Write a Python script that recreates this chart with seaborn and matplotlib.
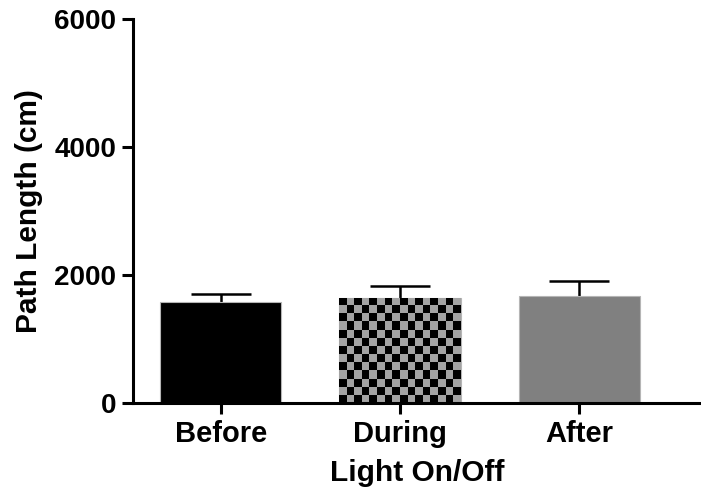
import numpy as np
import pandas as pd
import matplotlib
matplotlib.use("Agg")
import matplotlib.pyplot as plt
import seaborn as sns
from matplotlib.colors import ListedColormap

categories = ["Before", "During", "After"]
means = [1573, 1645, 1672]
sem = [135, 188, 239]
yticks = [0, 2000, 4000, 6000]

sns.set_style("ticks")
plt.rcParams['font.family'] = ['Liberation Sans', 'DejaVu Sans']
plt.rcParams['font.weight'] = 'bold'
plt.rcParams['text.color'] = 'black'
plt.rcParams['axes.labelcolor'] = 'black'
plt.rcParams['xtick.color'] = 'black'
plt.rcParams['ytick.color'] = 'black'
plt.rcParams['axes.edgecolor'] = 'black'

fig = plt.figure(figsize=(7.01, 4.93), dpi=100)
ax = fig.add_axes([133/701, 1 - 403/493, 1 - 133/701, (403 - 19)/493])

df = pd.DataFrame({"cond": categories, "val": means})
sns.barplot(data=df, x="cond", y="val", order=categories,
            palette=["#000000", "#a3a3a3", "#808080"], hue="cond", legend=False,
            width=0.676, errorbar=None, ax=ax, edgecolor="#b5b5b5", linewidth=0.8,
            saturation=1, zorder=2)

ax.errorbar(np.arange(len(categories)), means, yerr=sem, fmt="none",
            ecolor="black", elinewidth=1.8, capsize=21.5, capthick=1.8, zorder=1)

ax.set_xlim(-0.49, 2.68)
ax.set_ylim(0, 6000)
ax.set_yticks(yticks)
ax.set_yticklabels([str(t) for t in yticks])

# checkerboard texture for the "During" bar
fig.canvas.draw()
patch = ax.patches[1]
bb = patch.get_window_extent()
cell = 7.8
nx = max(1, int(round(bb.width / cell)))
ny = max(1, int(round(bb.height / cell)))
chk = (np.add.outer(np.arange(ny), np.arange(nx)) % 2).astype(float)
x0, y0 = patch.get_x(), patch.get_y()
w, h = patch.get_width(), patch.get_height()
im = ax.imshow(chk, cmap=ListedColormap(["#000000", "#a3a3a3"]),
               extent=[x0, x0 + w, y0, y0 + h], origin="upper",
               interpolation="nearest", aspect="auto", zorder=2.5)
im.set_clip_path(patch)
ax.set_aspect("auto")
ax.set_xlim(-0.49, 2.68)
ax.set_ylim(0, 6000)

sns.despine(ax=ax)
for s in ["left", "bottom"]:
    ax.spines[s].set_linewidth(2.2)
    ax.spines[s].set_zorder(3)
ax.tick_params(axis="both", width=2.2, length=8, pad=4)
ax.tick_params(axis="x", labelsize=21)
ax.tick_params(axis="y", labelsize=20)
for lab in ax.get_xticklabels() + ax.get_yticklabels():
    lab.set_fontweight("bold")

ax.set_xlabel("Light On/Off", fontsize=21.5, fontweight="bold", labelpad=8)
ax.set_ylabel("Path Length (cm)", fontsize=21.5, fontweight="bold", labelpad=8)

fig.savefig("out.png", dpi=100)
